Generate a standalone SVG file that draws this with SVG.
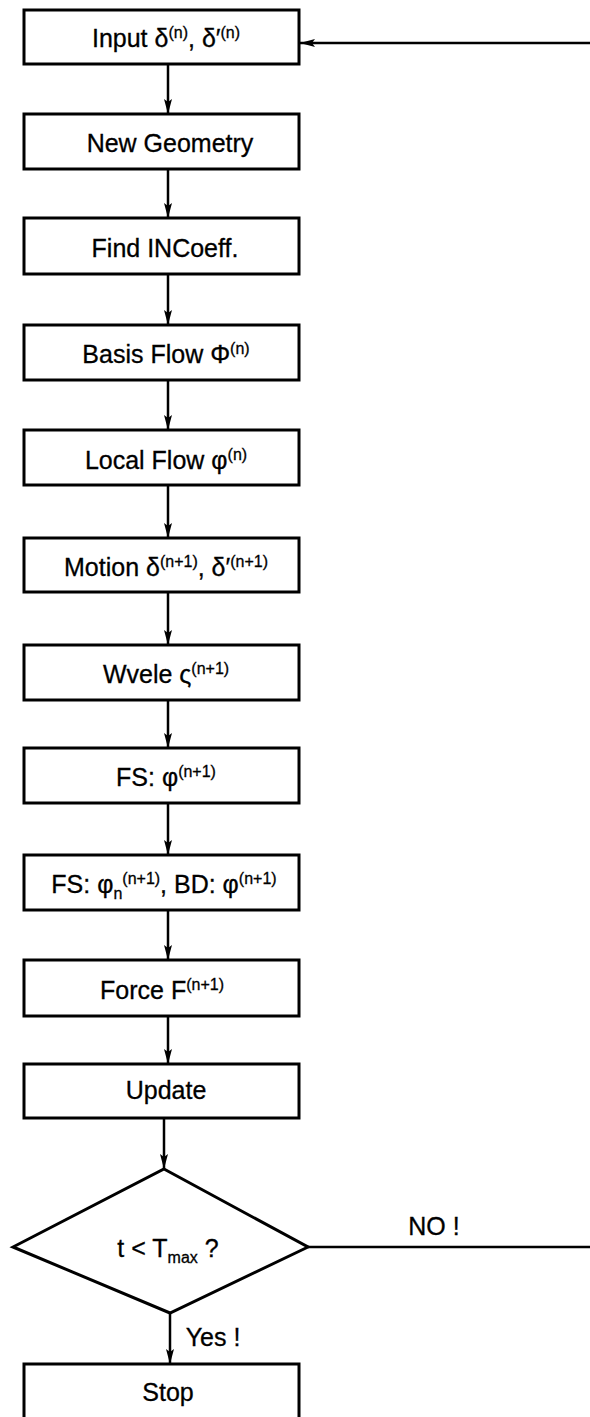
<svg xmlns="http://www.w3.org/2000/svg" width="590" height="1417" viewBox="0 0 590 1417">
<style>
.box{fill:#fff;stroke:#000;stroke-width:3}
.lbl{font-family:"Liberation Sans",Arial,sans-serif;font-size:25px;fill:#000;stroke:#000;stroke-width:0.3;text-anchor:middle}
.sup{font-size:16px}
.edge{fill:none;stroke:#000;stroke-width:2.5}
</style>
<defs>
<marker id="ah" viewBox="0 0 15 8" refX="15" refY="4" markerWidth="15" markerHeight="8" markerUnits="userSpaceOnUse" orient="auto">
<path d="M0,0 L15,4 L0,8 L3,4 Z" fill="#000"/>
</marker>
</defs>
<rect width="590" height="1417" fill="#fff"/>
<g id="connectors">
<line class="edge" x1="168" y1="64" x2="168" y2="114" marker-end="url(#ah)"/>
<line class="edge" x1="168" y1="169" x2="168" y2="218" marker-end="url(#ah)"/>
<line class="edge" x1="168" y1="274" x2="168" y2="325" marker-end="url(#ah)"/>
<line class="edge" x1="168" y1="380" x2="168" y2="430" marker-end="url(#ah)"/>
<line class="edge" x1="168" y1="485" x2="168" y2="538" marker-end="url(#ah)"/>
<line class="edge" x1="168" y1="592" x2="168" y2="645" marker-end="url(#ah)"/>
<line class="edge" x1="168" y1="700" x2="168" y2="748" marker-end="url(#ah)"/>
<line class="edge" x1="168" y1="803" x2="168" y2="855" marker-end="url(#ah)"/>
<line class="edge" x1="168" y1="910" x2="168" y2="960" marker-end="url(#ah)"/>
<line class="edge" x1="168" y1="1016" x2="168" y2="1064" marker-end="url(#ah)"/>
<line class="edge" x1="164" y1="1118" x2="164" y2="1169" marker-end="url(#ah)"/>
<line class="edge" x1="170" y1="1313" x2="170" y2="1364" marker-end="url(#ah)"/>
<path class="edge" d="M308,1247 H596 V43 H300" marker-end="url(#ah)"/>
<text class="lbl" x="434" y="1235">NO !</text>
<text class="lbl" x="213" y="1346">Yes !</text>
</g>
<g id="n1"><rect class="box" x="24" y="10" width="275" height="54"/>
<text class="lbl" x="166" y="47">Input δ<tspan class="sup" dy="-9">(n)</tspan><tspan dy="9">, δ′</tspan><tspan class="sup" dy="-9">(n)</tspan></text></g>
<g id="n2"><rect class="box" x="24" y="114" width="275" height="55"/>
<text class="lbl" x="170" y="152">New Geometry</text></g>
<g id="n3"><rect class="box" x="24" y="218" width="275" height="56"/>
<text class="lbl" x="165" y="257">Find INCoeff.</text></g>
<g id="n4"><rect class="box" x="24" y="325" width="275" height="55"/>
<text class="lbl" x="166" y="363">Basis Flow Φ<tspan class="sup" dy="-9">(n)</tspan></text></g>
<g id="n5"><rect class="box" x="24" y="430" width="275" height="55"/>
<text class="lbl" x="166" y="469">Local Flow φ<tspan class="sup" dy="-9">(n)</tspan></text></g>
<g id="n6"><rect class="box" x="24" y="538" width="275" height="54"/>
<text class="lbl" x="166" y="576">Motion δ<tspan class="sup" dy="-9">(n+1)</tspan><tspan dy="9">, δ′</tspan><tspan class="sup" dy="-9">(n+1)</tspan></text></g>
<g id="n7"><rect class="box" x="24" y="645" width="275" height="55"/>
<text class="lbl" x="166" y="683">Wvele ς<tspan class="sup" dy="-9">(n+1)</tspan></text></g>
<g id="n8"><rect class="box" x="24" y="748" width="275" height="55"/>
<text class="lbl" x="166" y="786">FS: φ<tspan class="sup" dy="-9">(n+1)</tspan></text></g>
<g id="n9"><rect class="box" x="24" y="855" width="275" height="55"/>
<text class="lbl" x="164" y="893">FS: φ<tspan class="sup" dy="6">n</tspan><tspan class="sup" dy="-15">(n+1)</tspan><tspan dy="9">, BD: φ</tspan><tspan class="sup" dy="-9">(n+1)</tspan></text></g>
<g id="n10"><rect class="box" x="24" y="960" width="275" height="56"/>
<text class="lbl" x="162" y="999">Force F<tspan class="sup" dy="-9">(n+1)</tspan></text></g>
<g id="n11"><rect class="box" x="24" y="1064" width="275" height="54"/>
<text class="lbl" x="166" y="1099">Update</text></g>
<g id="n12"><polygon class="box" points="164,1169 308,1247 170,1313 13,1247"/>
<text class="lbl" x="168" y="1257">t &lt; T<tspan class="sup" dy="6">max</tspan><tspan dy="-6"> ?</tspan></text></g>
<g id="n13"><rect class="box" x="24" y="1364" width="275" height="60"/>
<text class="lbl" x="168" y="1401">Stop</text></g>
</svg>
